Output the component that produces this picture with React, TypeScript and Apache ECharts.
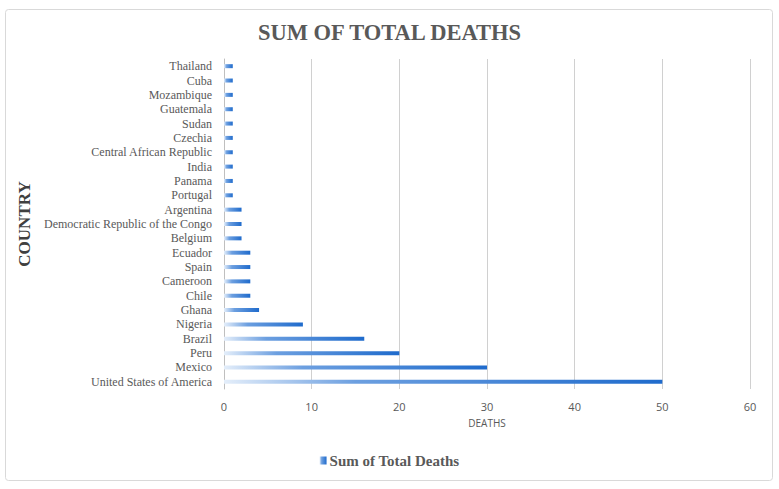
import React, { useEffect, useRef } from "react";
import * as echarts from "echarts";

const categories = [
  "Thailand", "Cuba", "Mozambique", "Guatemala", "Sudan", "Czechia",
  "Central African Republic", "India", "Panama", "Portugal", "Argentina",
  "Democratic Republic of the Congo", "Belgium", "Ecuador", "Spain", "Cameroon",
  "Chile", "Ghana", "Nigeria", "Brazil", "Peru", "Mexico", "United States of America",
];
const deaths = [1, 1, 1, 1, 1, 1, 1, 1, 1, 1, 2, 2, 2, 3, 3, 3, 3, 4, 9, 16, 20, 30, 50];
const xTicks = [0, 10, 20, 30, 40, 50, 60];

export default function App() {
  const ref = useRef<HTMLDivElement>(null);
  useEffect(() => {
    if (!ref.current) return;
    const chart = echarts.init(ref.current, undefined, { renderer: "svg" });
    const grad = new echarts.graphic.LinearGradient(0, 0, 1, 0, [
      { offset: 0, color: "#e4eefa" },
      { offset: 0.3, color: "#6c9fe0" },
      { offset: 1, color: "#1f6bcc" },
    ]);
    chart.setOption({
      animation: false,
      backgroundColor: "#ffffff",
      graphic: [
        {
          type: "rect",
          shape: { x: 5.5, y: 9.5, width: 767, height: 471, r: 3 },
          style: { fill: "none", stroke: "#d9d9d9", lineWidth: 1 },
          silent: true,
        },
      ],
      title: {
        text: "SUM OF TOTAL DEATHS",
        left: "center",
        top: 16,
        textStyle: {
          fontFamily: "Liberation Serif",
          fontWeight: "bold",
          fontSize: 22.5,
          color: "#595959",
        },
      },
      legend: {
        bottom: 16,
        left: "center",
        itemWidth: 7,
        itemHeight: 8,
        itemGap: 4,
        data: [{ name: "Sum of Total Deaths", icon: "rect" }],
        textStyle: {
          fontFamily: "Liberation Serif",
          fontWeight: "bold",
          fontSize: 15,
          color: "#595959",
          padding: [0, 0, 0, -2],
        },
      },
      grid: { left: 224, right: 29, top: 59, bottom: 100, containLabel: false },
      xAxis: {
        type: "value",
        min: xTicks[0],
        max: xTicks[xTicks.length - 1],
        interval: 10,
        name: "DEATHS",
        nameLocation: "middle",
        nameGap: 29,
        nameTextStyle: { fontFamily: "Open Sans", fontSize: 10, color: "#595959" },
        axisLine: { show: false },
        axisTick: { show: false },
        axisLabel: { fontFamily: "Open Sans", fontSize: 11, color: "#595959", margin: 12 },
        splitLine: { show: true, lineStyle: { color: "#d0d0d0", width: 1 } },
      },
      yAxis: {
        type: "category",
        data: categories,
        inverse: true,
        name: "COUNTRY",
        nameLocation: "middle",
        nameGap: 188,
        nameRotate: 90,
        nameTextStyle: {
          fontFamily: "Liberation Serif",
          fontWeight: "bold",
          fontSize: 17,
          color: "#404040",
        },
        axisLine: { show: true, lineStyle: { color: "#bfbfbf", width: 1 } },
        axisTick: { show: false },
        axisLabel: {
          interval: 0,
          fontFamily: "Liberation Serif",
          fontSize: 12,
          color: "#595959",
          margin: 12,
        },
        splitLine: { show: false },
      },
      series: [
        {
          name: "Sum of Total Deaths",
          type: "bar",
          data: deaths,
          barWidth: 4,
          itemStyle: { color: grad },
        },
      ],
    });
    return () => chart.dispose();
  }, []);
  return (
    <div
      ref={ref}
      style={{ position: "fixed", left: 0, top: 0, width: 779, height: 489 }}
    />
  );
}
